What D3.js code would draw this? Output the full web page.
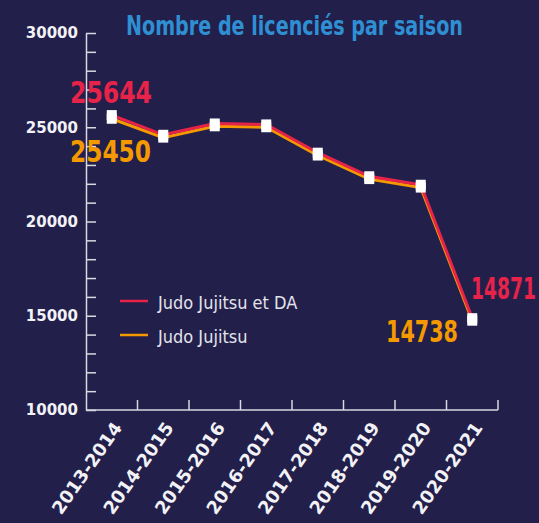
<!DOCTYPE html>
<html>
<head>
<meta charset="utf-8">
<script src="https://cdn.jsdelivr.net/npm/d3@7"></script>
<style>
  html, body { margin: 0; padding: 0; background: #221f4a; }
  svg { display: block; }
</style>
</head>
<body>
<div id="chart"></div>
<script>
// Size and plot area
const width = 539;
const height = 523;
const margin = {left: 86, right: 41, top: 33, bottom: 113};

// Data
const seasons = ["2013-2014", "2014-2015", "2015-2016", "2016-2017", "2017-2018", "2018-2019", "2019-2020", "2020-2021"];
const licDA = [25644, 24600, 25200, 25150, 23650, 22400, 21950, 14871];
const licJJ = [25450, 24450, 25050, 25000, 23500, 22250, 21800, 14738];
const yTicks = [10000, 15000, 20000, 25000, 30000];

const red = "#e8234a";
const orange = "#f49a00";
const axisColor = "#d9d9e3";

const svg = d3.select("#chart")
  .append("svg")
  .attr("width", width)
  .attr("height", height);

svg.append("rect")
  .attr("width", width)
  .attr("height", height)
  .attr("fill", "#221f4a");

// squeeze a text horizontally so it fills the given width
function fitText(sel, x0, y0, w) {
  const natural = sel.node().getComputedTextLength();
  sel.attr("transform", `translate(${x0},${y0}) scale(${w / natural},1)`);
}

// Scales
const x = d3.scaleBand()
  .domain(seasons)
  .range([margin.left, width - margin.right]);

const y = d3.scaleLinear()
  .domain([10000, 30000])
  .range([height - margin.bottom, margin.top]);

// Title
const title = svg.append("text")
  .attr("font-family", "DejaVu Sans Condensed")
  .attr("font-weight", "bold")
  .attr("font-size", 26)
  .attr("fill", "#2f8fd3")
  .text("Nombre de licenciés par saison");
fitText(title, 126, 35, 337);

// Y axis, minor ticks every 1000, labels every 5000
const yAxis = svg.append("g")
  .attr("transform", `translate(${margin.left},0)`)
  .call(d3.axisLeft(y)
    .ticks(20)
    .tickSize(-10)
    .tickSizeOuter(0)
    .tickPadding(8)
    .tickFormat(d => yTicks.includes(d) ? d : ""));

yAxis.select(".domain").attr("stroke", axisColor).attr("stroke-width", 1.5);
yAxis.selectAll(".tick line").attr("stroke", axisColor).attr("stroke-width", 1.5);
yAxis.selectAll(".tick text")
  .attr("fill", "#f2f2f6")
  .attr("font-family", "DejaVu Sans")
  .attr("font-weight", "bold")
  .attr("font-size", 15);

// X axis: line with ticks on band edges, labels at band centres
const xAxis = svg.append("g")
  .attr("transform", `translate(0,${height - margin.bottom})`)
  .call(d3.axisBottom(x).tickSize(0).tickPadding(0));

xAxis.select(".domain").remove();
xAxis.append("line")
  .attr("x1", margin.left)
  .attr("x2", width - margin.right)
  .attr("stroke", axisColor)
  .attr("stroke-width", 1.5);

xAxis.selectAll(".edge")
  .data(seasons.slice(1).concat(["end"]))
  .enter()
  .append("line")
  .attr("class", "edge")
  .attr("x1", d => d === "end" ? x.range()[1] : x(d))
  .attr("x2", d => d === "end" ? x.range()[1] : x(d))
  .attr("y1", 0)
  .attr("y2", -10)
  .attr("stroke", axisColor)
  .attr("stroke-width", 1.5);

xAxis.selectAll(".tick text")
  .attr("fill", "#f2f2f6")
  .attr("font-family", "DejaVu Sans")
  .attr("font-weight", "bold")
  .attr("font-size", 18)
  .attr("text-anchor", "end")
  .attr("dy", "0.35em")
  .attr("transform", "translate(6,14) rotate(-55)");

// Lines
const line = d3.line()
  .x((d, i) => x(seasons[i]) + x.bandwidth() / 2)
  .y(d => y(d));

svg.append("path")
  .datum(licJJ)
  .attr("d", line)
  .attr("fill", "none")
  .attr("stroke", orange)
  .attr("stroke-width", 3);

svg.append("path")
  .datum(licDA)
  .attr("d", line)
  .attr("fill", "none")
  .attr("stroke", red)
  .attr("stroke-width", 3);

// Square markers on both series
[licJJ, licDA].forEach(series => {
  svg.append("g")
    .selectAll("rect")
    .data(series)
    .enter()
    .append("rect")
    .attr("x", (d, i) => x(seasons[i]) + x.bandwidth() / 2 - 5)
    .attr("y", d => y(d) - 5)
    .attr("width", 10)
    .attr("height", 10)
    .attr("fill", "#ffffff");
});

// Value labels for first and last seasons
const labels = [
  {text: licDA[0], x: 70, y: 103, w: 82, color: red},
  {text: licJJ[0], x: 70, y: 162, w: 81, color: orange},
  {text: licDA[7], x: 471, y: 299, w: 65, color: red},
  {text: licJJ[7], x: 386, y: 342, w: 72, color: orange}
];

svg.selectAll(".val")
  .data(labels)
  .enter()
  .append("text")
  .attr("class", "val")
  .attr("font-family", "DejaVu Sans Condensed")
  .attr("font-weight", "bold")
  .attr("font-size", 30)
  .attr("fill", d => d.color)
  .text(d => d.text)
  .each(function(d) { fitText(d3.select(this), d.x, d.y, d.w); });

// Legend
const legend = [
  {name: "Judo Jujitsu et DA", color: red, y: 301},
  {name: "Judo Jujitsu", color: orange, y: 335}
];

const lg = svg.append("g");
lg.selectAll("line")
  .data(legend)
  .enter()
  .append("line")
  .attr("x1", 120)
  .attr("x2", 148)
  .attr("y1", d => d.y)
  .attr("y2", d => d.y)
  .attr("stroke", d => d.color)
  .attr("stroke-width", 2.5);

lg.selectAll("text")
  .data(legend)
  .enter()
  .append("text")
  .attr("x", 158)
  .attr("y", d => d.y + 8)
  .attr("font-family", "DejaVu Sans Condensed")
  .attr("font-size", 18)
  .attr("fill", "#e3e3ec")
  .text(d => d.name);
</script>
</body>
</html>
